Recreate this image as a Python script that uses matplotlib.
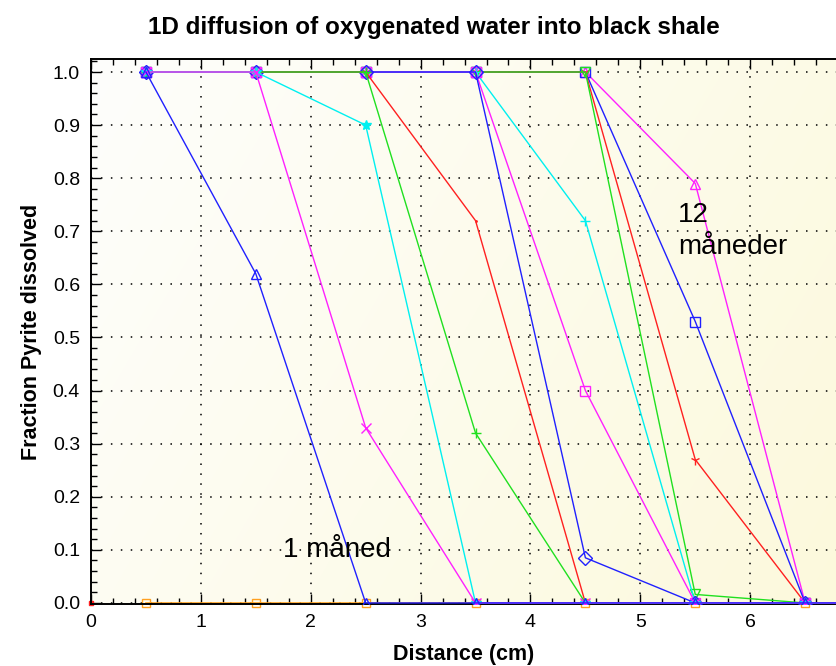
import numpy as np
import matplotlib
matplotlib.use("Agg")
import matplotlib.pyplot as plt
from matplotlib.ticker import MultipleLocator

plt.rcParams['font.family'] = ['Liberation Sans', 'DejaVu Sans']

# Distance grid (cm)
distance = [0.5, 1.5, 2.5, 3.5, 4.5, 5.5, 6.5, 7.5]

# Fraction of pyrite dissolved at each distance, one profile per time step
initial = [0, 0, 0, 0, 0, 0, 0, 0]
p01 = [1.0, 0.62, 0.0, 0, 0, 0, 0, 0]
p02 = [1.0, 1.0, 0.33, 0.0, 0, 0, 0, 0]
p03 = [1.0, 1.0, 0.90, 0.0, 0, 0, 0, 0]
p04 = [1.0, 1.0, 1.0, 0.32, 0.0, 0, 0, 0]
p05 = [1.0, 1.0, 1.0, 0.72, 0.0, 0, 0, 0]
p06 = [1.0, 1.0, 1.0, 1.0, 0.085, 0.0, 0, 0]
p07 = [1.0, 1.0, 1.0, 1.0, 0.40, 0.0, 0, 0]
p08 = [1.0, 1.0, 1.0, 1.0, 0.72, 0.0, 0, 0]
p09 = [1.0, 1.0, 1.0, 1.0, 1.0, 0.016, 0.0, 0]
p10 = [1.0, 1.0, 1.0, 1.0, 1.0, 0.27, 0.0, 0]
p11 = [1.0, 1.0, 1.0, 1.0, 1.0, 0.53, 0.0, 0]
p12 = [1.0, 1.0, 1.0, 1.0, 1.0, 0.79, 0.0, 0]

profiles = [p01, p02, p03, p04, p05, p06, p07, p08, p09, p10, p11, p12]
colors = ['#2020ff', '#ff20ff', '#00f0f0', '#20e020', '#ff2020', '#2020ff',
          '#ff20ff', '#00f0f0', '#20e020', '#ff2020', '#2020ff', '#ff20ff']
markers = ['^', 'x', '*', '+', '.', 'D', 's', '+', 'v', '1', 's', '^']

fig = plt.figure(figsize=(8.37, 6.66), dpi=100)
ax = fig.add_axes([91 / 837, 62 / 666, 1 - 91 / 837, (604 - 59) / 666])

ax.set_xlim(0, 6.79)
ax.set_ylim(-0.002, 1.0245)

# soft cream background fading from the upper-left corner
gx, gy = np.meshgrid(np.linspace(0, 1, 400), np.linspace(1, 0, 400))
t = np.clip(0.7 * gx + 0.3 * (1 - gy), 0, 1)
c0 = np.array([0xfe, 0xfe, 0xfc]) / 255
c1 = np.array([0xfc, 0xf9, 0xdc]) / 255
img = c0[None, None, :] * (1 - t[..., None]) + c1[None, None, :] * t[..., None]
ax.imshow(img, extent=[0, 1, 0, 1], transform=ax.transAxes, aspect='auto',
          zorder=0, interpolation='bilinear')

ax.grid(True, which='major', color='black', linestyle=(0, (1, 5.5)),
        linewidth=1.1, zorder=1)

# initial state drawn first, then the latest profile down to the first month
ax.plot(distance, initial, color='#ffa020', lw=1.2, marker='s', ms=6,
        mfc='none', mew=1.0, zorder=2, clip_on=False)
ax.plot([0], [0], color='#ff2020', marker='s', ms=3, zorder=2, clip_on=False)
for k in range(len(profiles) - 1, -1, -1):
    mk = markers[k]
    filled = mk in ('x', '+', '*', '1', '.')
    ax.plot(distance, profiles[k], color=colors[k], lw=1.0, marker=mk,
            ms=7 if mk != '.' else 2, mfc=colors[k] if filled else 'none',
            mew=1.0, zorder=3 + (12 - k) * 0.01, clip_on=True)

ax.xaxis.set_major_locator(MultipleLocator(1))
ax.xaxis.set_minor_locator(MultipleLocator(0.2))
ax.yaxis.set_minor_locator(MultipleLocator(0.02))
yt = np.round(np.arange(0, 1.01, 0.1), 1)
ax.set_yticks(yt)
ax.set_yticklabels([f"{v:.1f}" for v in yt])

ax.tick_params(which='both', direction='in', top=True, right=False,
               colors='black', labelsize=14)
ax.tick_params(which='major', length=7, width=1)
ax.tick_params(which='minor', length=4, width=1)
ax.tick_params(axis='x', pad=7)
ax.tick_params(axis='y', pad=8)

for side in ('left', 'bottom', 'top'):
    ax.spines[side].set_color('black')
    ax.spines[side].set_linewidth(1.4)
ax.spines['right'].set_visible(False)

ax.set_xlabel('Distance (cm)', fontsize=15.5, fontweight='bold', labelpad=9.5)
ax.set_ylabel('Fraction Pyrite dissolved', fontsize=15.5, fontweight='bold',
              labelpad=8)
fig.text(0.5185, 0.959, '1D diffusion of oxygenated water into black shale',
         ha='center', va='center', fontsize=17.5, fontweight='bold')

ax.text(5.345, 0.7175, '12', fontsize=20, ha='left', va='baseline', zorder=10)
ax.text(5.345, 0.657, 'måneder', fontsize=20, ha='left', va='baseline', zorder=10)
ax.text(1.748, 0.0866, '1 måned', fontsize=20, ha='left', va='baseline', zorder=10)

fig.savefig('out.png', dpi=100)
